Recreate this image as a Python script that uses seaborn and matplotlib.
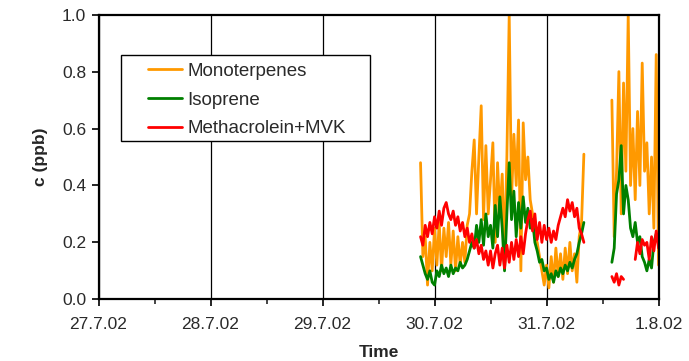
import numpy as np
import pandas as pd
import matplotlib
matplotlib.use("Agg")
import matplotlib.pyplot as plt
import matplotlib.dates as mdates
from matplotlib.lines import Line2D
from matplotlib.patches import Rectangle
from matplotlib.ticker import FuncFormatter
import seaborn as sns

# ---------------- data ----------------
species = ["Monoterpenes", "Isoprene", "Methacrolein+MVK"]
colors = ["#FF9900", "#008000", "#FF0000"]

seg1_start = "2002-07-29 21:00"   # 30-min samples
seg2_start = "2002-07-31 14:00"

mono_seg1 = [0.48, 0.15, 0.22, 0.05, 0.20, 0.10, 0.25, 0.12, 0.27, 0.10,
             0.25, 0.15, 0.27, 0.12, 0.24, 0.10, 0.22, 0.12, 0.20, 0.13,
             0.26, 0.30, 0.45, 0.56, 0.30, 0.50, 0.68, 0.28, 0.54, 0.30,
             0.42, 0.55, 0.20, 0.48, 0.30, 0.44, 0.15, 0.50, 1.00, 0.35,
             0.58, 0.40, 0.63, 0.10, 0.62, 0.42, 0.50, 0.35, 0.30, 0.22,
             0.20, 0.15, 0.10, 0.05, 0.12, 0.04, 0.15, 0.06, 0.18, 0.08,
             0.16, 0.07, 0.18, 0.09, 0.20, 0.10, 0.16, 0.06, 0.22, 0.27,
             0.51]
iso_seg1 = [0.15, 0.12, 0.09, 0.07, 0.10, 0.06, 0.05, 0.10, 0.08, 0.12,
            0.09, 0.11, 0.08, 0.12, 0.09, 0.11, 0.10, 0.13, 0.11, 0.12,
            0.14, 0.17, 0.20, 0.18, 0.26, 0.20, 0.28, 0.19, 0.30, 0.22,
            0.26, 0.18, 0.33, 0.22, 0.36, 0.25, 0.10, 0.30, 0.48, 0.28,
            0.38, 0.22, 0.34, 0.25, 0.36, 0.27, 0.32, 0.25, 0.28, 0.20,
            0.17, 0.13, 0.14, 0.10, 0.11, 0.07, 0.09, 0.06, 0.10, 0.08,
            0.11, 0.09, 0.12, 0.10, 0.13, 0.11, 0.14, 0.16, 0.20, 0.23,
            0.27]
mvk_seg1 = [0.22, 0.19, 0.26, 0.22, 0.27, 0.23, 0.29, 0.25, 0.31, 0.26,
            0.32, 0.34, 0.30, 0.28, 0.31, 0.26, 0.29, 0.24, 0.27, 0.22,
            0.25, 0.20, 0.23, 0.18, 0.21, 0.16, 0.19, 0.14, 0.17, 0.12,
            0.17, 0.11, 0.16, 0.19, 0.12, 0.18, 0.11, 0.19, 0.13, 0.20,
            0.14, 0.21, 0.15, 0.22, 0.16, 0.23, 0.28, 0.31, 0.24, 0.30,
            0.21, 0.27, 0.20, 0.26, 0.21, 0.25, 0.20, 0.24, 0.21, 0.26,
            0.29, 0.32, 0.29, 0.35, 0.31, 0.34, 0.29, 0.32, 0.25, 0.23,
            0.20]

mono_seg2 = [0.70, 0.22, 0.45, 0.80, 0.30, 0.76, 0.45, 1.00, 0.40, 0.60,
             0.35, 0.66, 0.40, 0.83, 0.45, 0.55, 0.30, 0.50, 0.25, 0.86,
             0.12]
iso_seg2 = [0.13, 0.18, 0.37, 0.42, 0.54, 0.30, 0.40, 0.35, 0.25, 0.22,
            0.27, 0.20, 0.22, 0.15, 0.13, 0.10, 0.14, 0.11, 0.20, 0.23,
            0.20]
mvk_seg2 = [0.08, 0.06, 0.09, 0.05, 0.08, 0.07, np.nan, np.nan, np.nan, np.nan,
            0.14, 0.20, 0.16, 0.21, 0.19, 0.20, 0.14, 0.22, 0.17, 0.24,
            0.18]

y_ticks = [0.0, 0.2, 0.4, 0.6, 0.8, 1.0]

# ---------------- build tables ----------------
t1 = pd.date_range(seg1_start, periods=len(mono_seg1), freq="30min")
t2 = pd.date_range(seg2_start, periods=len(mono_seg2), freq="30min")

def build(s1, s2):
    d1 = pd.DataFrame({"time": t1, "value": s1})
    d1["seg"] = 0
    d2 = pd.DataFrame({"time": t2, "value": s2})
    # each run of valid values is its own unit, so gaps stay open
    d2["seg"] = 1 + d2["value"].isna().cumsum()
    d = pd.concat([d1, d2.dropna()], ignore_index=True)
    return d

series = [build(mono_seg1, mono_seg2), build(iso_seg1, iso_seg2),
          build(mvk_seg1, mvk_seg2)]

# ---------------- plot ----------------
sns.set_style("ticks")
plt.rcParams["font.family"] = ["Liberation Sans", "DejaVu Sans"]

fig = plt.figure(figsize=(6.89, 3.61), dpi=100)
ax = fig.add_axes([0.143, 0.1709, 0.8128, 0.7884])

for i, (d, c) in enumerate(zip(series, colors)):
    sns.lineplot(data=d, x="time", y="value", units="seg", estimator=None,
                 color=c, lw=2.0, legend=False, ax=ax, zorder=3 + i)

ax.set_xlim(pd.Timestamp("2002-07-27"), pd.Timestamp("2002-08-01"))
ax.set_ylim(0, 1.0)
ax.set_yticks(y_ticks)
ax.yaxis.set_major_formatter(FuncFormatter(lambda v, p: f"{v:.1f}"))

ax.xaxis.set_major_locator(mdates.DayLocator())
ax.xaxis.set_minor_locator(mdates.HourLocator(byhour=[12]))
def day_fmt(v, p):
    d = mdates.num2date(v)
    return f"{d.day}.{d.month}.{d.year % 100:02d}"
ax.xaxis.set_major_formatter(FuncFormatter(day_fmt))

ax.grid(axis="x", which="major", color="black", lw=0.9, zorder=1)
ax.grid(axis="y", visible=False)

for sp in ax.spines.values():
    sp.set_visible(True)
    sp.set_color("black")
    sp.set_linewidth(1.6)
    sp.set_zorder(10)

ax.tick_params(axis="both", which="major", direction="out", length=5, width=1.2,
               colors="black", labelcolor="#2a2a2a", labelsize=12.5)
ax.tick_params(axis="x", which="minor", direction="out", length=3.5, width=1.2)
ax.tick_params(axis="x", which="major", pad=8)
ax.tick_params(axis="y", which="major", pad=4)

ax.set_xlabel("Time", fontsize=12.5, fontweight="bold", labelpad=9)
ax.set_ylabel("c (ppb)", fontsize=12.5, fontweight="bold", labelpad=10)

# legend frame
ax.add_patch(Rectangle((0.0402, 0.556), 0.4446, 0.302, transform=ax.transAxes,
                       facecolor="white", edgecolor="black", lw=1.0, zorder=2))
handles = [Line2D([], [], color=c, lw=2) for c in colors]
leg = ax.legend(handles, species, loc="upper left", bbox_to_anchor=(0.0884, 0.831),
                frameon=False, fontsize=13.5, handlelength=1.8, handletextpad=0.3,
                labelspacing=0.62, borderpad=0, borderaxespad=0)
for t in leg.get_texts():
    t.set_color("#2a2a2a")

fig.savefig("out.png", dpi=100)
